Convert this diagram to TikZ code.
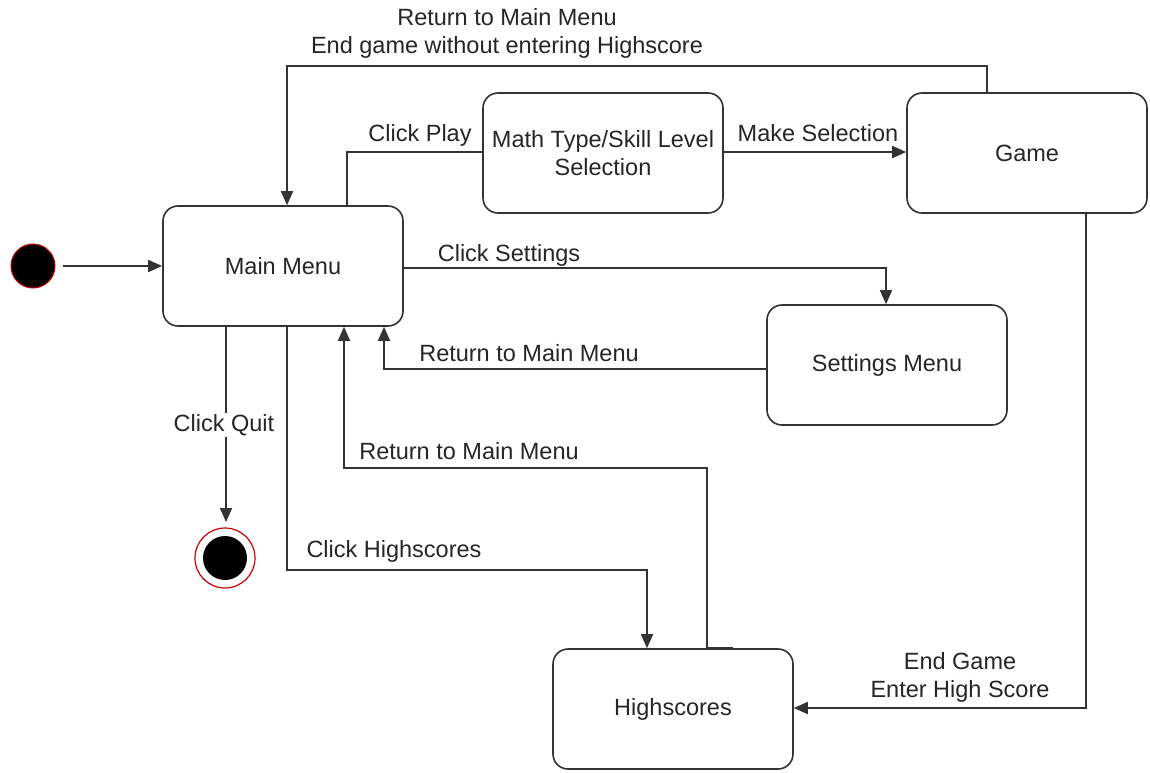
\documentclass[tikz,border=0pt]{standalone}
\usepackage{fontspec}
\setmainfont{Liberation Sans}
\usetikzlibrary{arrows.meta}
\definecolor{ln}{HTML}{333333}
\definecolor{ring}{HTML}{CC0000}
\begin{document}
\begin{tikzpicture}[x=1pt,y=-1pt,
  every node/.style={font=\fontsize{23.5}{28}\selectfont, text=black!85},
  state/.style={draw=ln, line width=1.6pt, rounded corners=15pt, minimum width=240pt, minimum height=120pt, align=center, inner sep=0pt},
  conn/.style={draw=ln, line width=1.6pt},
  arr/.style={conn, -{Triangle[length=14pt,width=12pt]}},
  lbl/.style={align=center, inner sep=1pt}]
\useasboundingbox (0,0) rectangle (1150,772);
\fill[white] (0,0) rectangle (1150,772);

\node[state] (main) at (283,266) {Main Menu};
\node[state] (math) at (603,153) {Math Type/Skill Level\\Selection};
\node[state] (game) at (1027,153) {Game};
\node[state] (set) at (887,365) {Settings Menu};
\node[state] (high) at (673,709) {Highscores};

\node[circle, fill=black, draw=ring, line width=1pt, minimum size=44pt, inner sep=0pt] (init) at (33,266) {};
\node[circle, draw=ring, line width=1.2pt, fill=white, minimum size=60pt, inner sep=0pt] (fin) at (225,558) {};
\node[circle, fill=black, minimum size=44pt, inner sep=0pt] (finin) at (fin) {};

\coordinate (c1) at (347,152);
\coordinate (c2) at (987,66);
\coordinate (c3) at (287,66);
\coordinate (c4) at (886,268);
\coordinate (c5) at (384,369);
\coordinate (c6) at (287,570);
\coordinate (c7) at (647,570);
\coordinate (c8) at (707,468);
\coordinate (c9) at (344,468);
\coordinate (c10) at (1086,708);
\coordinate (q) at (226,522);

\draw[arr] ([xshift=7pt]init.east) -- (main.west |- init);
\draw[conn] (main.north -| c1) -- (c1) -- (math.west |- c1);
\draw[arr] (math.east |- c1) -- (game.west |- c1);
\draw[arr] (game.north -| c2) -- (c2) -- (c3) -- (main.north -| c3);
\draw[arr] (main.east |- c4) -- (c4) -- (set.north -| c4);
\draw[arr] (set.west |- c5) -- (c5) -- (main.south -| c5);
\draw[arr] (main.south -| q) -- (q);
\draw[arr] (main.south -| c6) -- (c6) -- (c7) -- (high.north -| c7);
\draw[conn] ([xshift=60pt]high.north) -- ([xshift=34pt]high.north) -- (high.north -| c8);
\draw[arr] (high.north -| c8) -- (c8) -- (c9) -- (main.south -| c9);
\draw[arr] (game.south -| c10) -- (c10) -- (high.east |- c10);

\node[lbl] (l1) at (507,33) {Return to Main Menu\\End game without entering Highscore};
\node[lbl] (l2) at (420,135) {Click Play};
\node[lbl] (l3) at (818,133) {Make Selection};
\node[lbl] (l4) at (509,255) {Click Settings};
\node[lbl] (l5) at (529,353) {Return to Main Menu};
\node[lbl, fill=white] (l6) at (224,425) {Click Quit};
\node[lbl] (l7) at (394,551) {Click Highscores};
\node[lbl] (l8) at (469,451) {Return to Main Menu};
\node[lbl] (l9) at (960,677) {End Game\\Enter High Score};
\end{tikzpicture}
\end{document}
